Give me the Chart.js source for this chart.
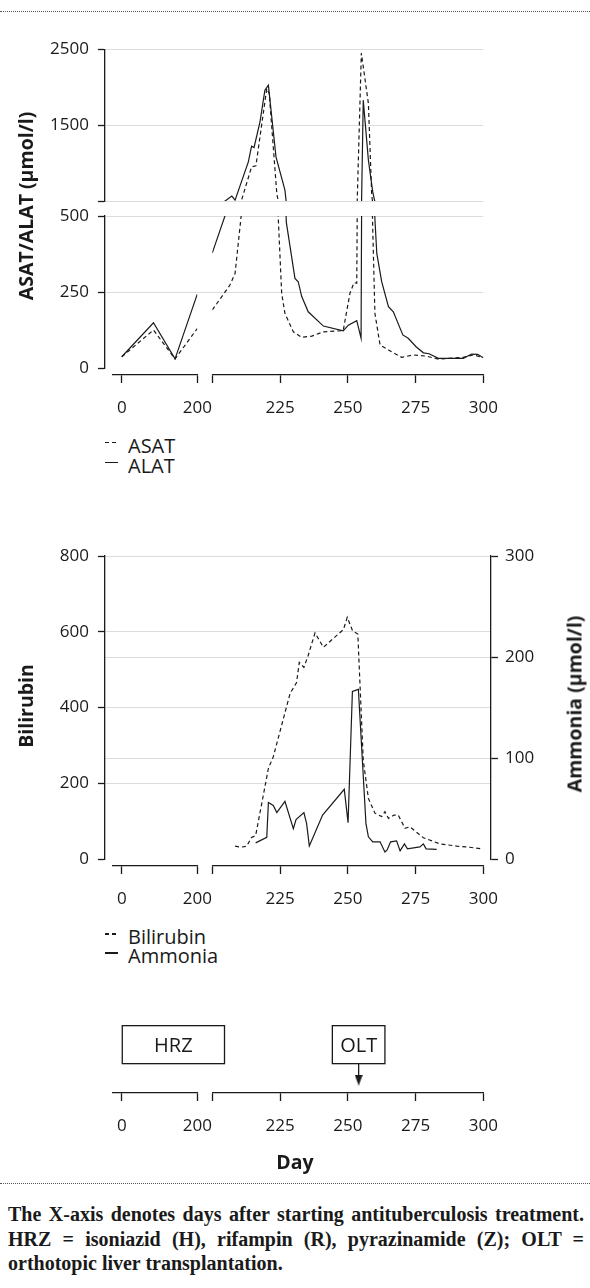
<!DOCTYPE html>
<html lang="en">
<head>
<meta charset="UTF-8">
<title>ASAT/ALAT, bilirubin and ammonia after antituberculosis treatment</title>
<script src="https://cdn.jsdelivr.net/npm/chart.js"></script>
<style>
  body { margin: 0; width: 590px; height: 1288px; background: #fff; position: relative; overflow: hidden;
         font-family: 'Open Sans', sans-serif; color: #1a1a1a; }
  canvas { position: absolute; left: 0; }
  .rule { position: absolute; left: 0; width: 590px; height: 0; border-top: 1px dotted #555; }
  .ytitle { position: absolute; font-weight: 700; font-size: 19.5px; white-space: nowrap;
            transform: translate(-50%, -50%) rotate(-90deg); }
  .leg { position: absolute; left: 105px; font-size: 20px; line-height: 24px; white-space: nowrap; }
  .sym { display: inline-block; height: 1.3px; vertical-align: 9.5px; background: #1a1a1a; width: 13px; margin-right: 10px; }
  .sym.dash { width: 11px; margin-right: 12px;
              background: repeating-linear-gradient(90deg, #1a1a1a 0 4px, transparent 4px 7px); }
  .day { position: absolute; left: 195px; width: 200px; top: 1150.4px; text-align: center;
         font-weight: 700; font-size: 19.5px; line-height: 24px; }
  .cap { position: absolute; left: 8px; width: 576px; top: 1202px; font-family: 'Liberation Serif', serif;
         font-weight: 700; font-size: 20px; line-height: 24.5px; }
  .cap .j { text-align: justify; text-align-last: justify; }
</style>
</head>
<body>

<div class="rule" style="top:11px"></div>

<canvas id="enzymes" width="590" height="400" style="top:30px"></canvas>
<canvas id="bili" width="590" height="400" style="top:520px"></canvas>
<canvas id="timeline" width="590" height="160" style="top:990px"></canvas>

<div class="ytitle" style="left:24.5px; top:206px">ASAT/ALAT (µmol/l)</div>
<div class="leg" style="top:433.5px"><span class="sym dash"></span>ASAT</div>
<div class="leg" style="top:453.5px"><span class="sym"></span>ALAT</div>

<div class="ytitle" style="left:24.5px; top:706px">Bilirubin</div>
<div class="ytitle" style="left:574px; top:704px">Ammonia (µmol/l)</div>
<div class="leg" style="top:925.2px"><span class="sym dash"></span>Bilirubin</div>
<div class="leg" style="top:944.2px"><span class="sym"></span>Ammonia</div>

<div class="day">Day</div>

<div class="rule" style="top:1183px"></div>
<div class="cap">
  <div class="j">The X-axis denotes days after starting antituberculosis treatment.</div>
  <div class="j">HRZ = isoniazid (H), rifampin (R), pyrazinamide (Z); OLT =</div>
  <div>orthotopic liver transplantation.</div>
</div>

<script>
// ---- data (days after start of treatment) ----
const earlyDays = [0, 84, 141, 200];
const earlyAsat = [37, 125, 30, 130];
const earlyAlat = [37, 149, 30, 243];

const asatDays = [200, 206.5, 208.4, 210.8, 214.5, 216.1, 220.1, 221, 223.8, 225.6,
                  226.8, 229.9, 233, 236.7, 241, 248.3, 250.8, 252.3, 253.3, 255,
                  257.6, 258.8, 260, 261.9, 265, 269.9, 274.2, 279.1, 283.4, 292.6, 296.3, 300];
const asatVals = [191, 273, 311, 513, 951, 965, 1983, 1917, 601, 246,
                  180, 119, 101, 105, 119, 123, 246, 281, 279, 2450,
                  1786, 601, 180, 76, 59, 35, 43, 39, 29, 35, 43, 34];

const alatDays = [200, 207.2, 208.4, 213.3, 214.5, 215.4, 217.6, 219.4, 220.7, 223.5,
                  226.8, 227.3, 230.5, 231.7, 233, 235.4, 241, 248.3, 250.2, 253.3,
                  254.9, 255.7, 257.6, 259.2, 260.7, 262.5, 265, 266.8, 270.3, 272.3,
                  275.2, 277.9, 280, 283.4, 292.6, 295.7, 297.9, 300];
const alatVals = [379, 566, 513, 1017, 1224, 1206, 1544, 1961, 2027, 1083,
                  645, 480, 295, 284, 235, 185, 138, 122, 141, 156,
                  98, 1829, 1040, 622, 377, 284, 202, 185, 109, 98,
                  70, 50, 47, 32, 32, 46, 45, 34];

const biliDays = [208.4, 210.5, 212.7, 214.5, 216, 220.7, 222.5, 228.7, 231.1, 232.1,
                  233.8, 235.4, 237.9, 241, 248.4, 249.8, 251.8, 253.7, 255.7, 257.6,
                  260, 262.5, 263.7, 265, 267, 268.6, 271.1, 272.9, 277.9, 284, 290.2, 295, 300];
const biliVals = [34, 31, 34, 57, 62, 239, 270, 437, 466, 519,
                  506, 538, 597, 559, 606, 638, 602, 594, 261, 160,
                  121, 112, 125, 107, 116, 116, 81, 85, 56, 40, 34, 31, 26];

const nh3Days = [216, 220.1, 220.7, 222.5, 223.8, 226.8, 229.9, 230.9, 233.8, 234.8,
                 235.8, 240.7, 248.7, 250.1, 251.7, 253.9, 256.7, 257.6, 259.2, 261.9,
                 263.7, 264.5, 265.8, 268, 269.3, 270.9, 272, 276.6, 277.9, 278.9, 282.8];
const nh3Vals = [16, 21.5, 56, 53, 46, 57, 30, 39, 46, 35,
                 13, 43.5, 69, 36, 166, 168, 35, 22, 17, 17,
                 7, 9, 17, 18, 8, 15, 10, 12, 15, 10, 9.6];

const hrzPeriod = [0, 204.5];
const oltDay = 254;

const leftTicks = [0, 200];
const rightTicks = [200, 225, 250, 275, 300];
const enzLowTicks = [0, 250, 500];
const enzHighTicks = [500, 1500, 2500];
const biliTicks = [0, 200, 400, 600, 800];
const nh3Ticks = [0, 100, 200, 300];

// ---- styling ----
const INK = '#1a1a1a';
const GRID = '#dcdcdc';
const TICK_FONT = {family: "'Open Sans', sans-serif", size: 17};

function fixedTicks(values) {
  return scale => { scale.ticks = values.map(v => ({value: v})); };
}

// empty scale used to leave gaps in a stack of axes
function spacer(position, stack, stackWeight, weight, size) {
  const horizontal = position === 'top' || position === 'bottom';
  return {
    type: 'linear', position, stack, stackWeight, weight, min: 0, max: 1, offset: false,
    afterFit: s => { if (horizontal) s.height = size; else s.width = size; },
    ticks: {display: false}, grid: {display: false, offset: false}, border: {display: false}
  };
}

function dayAxis(min, max, ticks, hidden, stackWeight, weight, height) {
  return {
    type: 'linear', position: 'bottom', stack: 'day', stackWeight, weight, min, max, offset: false,
    afterBuildTicks: fixedTicks(ticks),
    afterFit: s => { s.height = height; },
    grid: {drawOnChartArea: false, offset: false, tickLength: 8, tickWidth: 1.3, tickColor: INK},
    border: {color: INK, width: 1.3},
    ticks: {font: TICK_FONT, color: INK, padding: 15, autoSkip: false, maxRotation: 0,
            callback: v => hidden.includes(v) ? '' : String(v)}
  };
}

function valueAxis(position, stack, min, max, ticks, hidden, stackWeight, weight, width) {
  return {
    type: 'linear', position, stack, stackWeight, weight, min, max, offset: false,
    afterBuildTicks: fixedTicks(ticks),
    afterFit: s => { s.width = width; },
    grid: {color: c => (c.tick && c.tick.value === 0) ? 'rgba(0,0,0,0)' : GRID, offset: false,
           lineWidth: 1, tickLength: 7, tickWidth: 1.3, tickColor: INK},
    border: {color: INK, width: 1.3},
    ticks: {font: TICK_FONT, color: INK, padding: position === 'left' ? 9 : 7,
            callback: v => hidden.includes(v) ? '' : String(v)}
  };
}

function dayScales(height, padRight) {
  const s = {
    xPad: spacer('bottom', 'day', 7.7, 1, height),
    xL: dayAxis(-24, 200, leftTicks, [], 84.6, 2, height),
    xGap: spacer('bottom', 'day', 15, 3, height),
    xR: dayAxis(200, 300, rightTicks, [200], 271, 4, height)
  };
  if (padRight) s.xPadR = spacer('bottom', 'day', 7.7, 5, height);
  return s;
}

function series(days, vals, xAxisID, yAxisID, dashed) {
  return {
    data: days.map((d, i) => ({x: d, y: vals[i]})),
    xAxisID, yAxisID,
    borderColor: INK, borderWidth: 1.2, borderDash: dashed ? [4, 3] : [],
    pointRadius: 0, tension: 0, fill: false, clip: false
  };
}

// clip every dataset to the box of its own x and y scale (broken axes)
const panelClip = {
  id: 'panelClip',
  beforeDatasetDraw(chart, args) {
    const {xScale, yScale} = args.meta;
    const ctx = chart.ctx;
    ctx.save();
    ctx.beginPath();
    ctx.rect(xScale.left, yScale.top, xScale.right - xScale.left, yScale.bottom - yScale.top);
    ctx.clip();
  },
  afterDatasetDraw(chart) {
    chart.ctx.restore();
  }
};

const common = {
  responsive: false, animation: false, events: [],
  plugins: {legend: {display: false}, tooltip: {enabled: false}}
};

// ---- ASAT / ALAT ----
new Chart(document.getElementById('enzymes'), {
  type: 'line',
  data: {datasets: [
    series(earlyDays, earlyAsat, 'xL', 'yLo', true),
    series(earlyDays, earlyAlat, 'xL', 'yLo', false),
    series(asatDays, asatVals, 'xR', 'yLo', true),
    series(asatDays, asatVals, 'xR', 'yHi', true),
    series(alatDays, alatVals, 'xR', 'yLo', false),
    series(alatDays, alatVals, 'xR', 'yHi', false)
  ]},
  options: Object.assign({}, common, {
    layout: {padding: {left: 0, right: 106.7, top: 19, bottom: 0}},
    scales: Object.assign(dayScales(55, false), {
      yHi: valueAxis('left', 'v', 500, 2500, enzHighTicks, [500], 152, 4, 105),
      yGap: spacer('left', 'v', 15, 3, 105),
      yLo: valueAxis('left', 'v', 0, 500, enzLowTicks, [], 152, 2, 105),
      yPad: spacer('left', 'v', 7, 1, 105)
    })
  }),
  plugins: [panelClip]
});

// ---- bilirubin / ammonia ----
new Chart(document.getElementById('bili'), {
  type: 'line',
  data: {datasets: [
    series(biliDays, biliVals, 'xR', 'yB', true),
    series(nh3Days, nh3Vals, 'xR', 'yN', false)
  ]},
  options: Object.assign({}, common, {
    layout: {padding: {left: 0, right: 0, top: 36, bottom: 0}},
    scales: Object.assign(dayScales(54, true), {
      yB: valueAxis('left', 'l', 0, 800, biliTicks, [], 303, 2, 105),
      yBPad: spacer('left', 'l', 7, 1, 105),
      yN: valueAxis('right', 'r', 0, 300, nh3Ticks, [], 303, 1, 99),
      yNPad: spacer('right', 'r', 7, 2, 99)
    })
  }),
  plugins: [panelClip]
});

// ---- treatment timeline ----
const lane = 1;
const oltHalfWidth = 9.7;
const arrowSpan = [0.61, 0.265];

const head = document.createElement('canvas');
head.width = 8; head.height = 11;
const hctx = head.getContext('2d');
hctx.fillStyle = INK;
hctx.beginPath(); hctx.moveTo(0, 0); hctx.lineTo(8, 0); hctx.lineTo(4, 11); hctx.closePath(); hctx.fill();

// white floating bars; a box spanning the broken axis is made of several pieces
function box(x, xAxisID, label) {
  return {
    type: 'bar', indexAxis: 'y', grouped: false, xAxisID, yAxisID: 'y',
    data: [{x, y: lane}], boxLabel: label,
    backgroundColor: '#fff', borderWidth: 0, barThickness: 38, clip: false
  };
}

// outline each labelled group of bars as one box and write its label
const boxText = {
  id: 'boxText',
  afterDatasetsDraw(chart) {
    const spans = {};
    chart.data.datasets.forEach((ds, i) => {
      if (!ds.boxLabel) return;
      chart.getDatasetMeta(i).data.forEach(bar => {
        const p = bar.getProps(['x', 'y', 'base', 'height'], true);
        const s = spans[ds.boxLabel] || (spans[ds.boxLabel] = {l: Infinity, r: -Infinity, y: p.y, h: p.height});
        s.l = Math.min(s.l, p.x, p.base);
        s.r = Math.max(s.r, p.x, p.base);
      });
    });
    const ctx = chart.ctx;
    ctx.save();
    ctx.strokeStyle = INK;
    ctx.lineWidth = 1.3;
    ctx.font = "20px 'Open Sans', sans-serif";
    ctx.fillStyle = INK;
    ctx.textAlign = 'center';
    ctx.textBaseline = 'middle';
    Object.keys(spans).forEach(t => {
      const s = spans[t];
      ctx.strokeRect(s.l, s.y - s.h / 2, s.r - s.l, s.h);
      ctx.fillText(t, (s.l + s.r) / 2, s.y + 1.4);
    });
    ctx.restore();
  }
};

new Chart(document.getElementById('timeline'), {
  type: 'bar',
  data: {datasets: [
    box([hrzPeriod[0], 200], 'xL', 'HRZ'),
    box([0, 1], 'xGap', 'HRZ'),
    box([200, hrzPeriod[1]], 'xR', 'HRZ'),
    box([oltDay - oltHalfWidth, oltDay + oltHalfWidth], 'xR', 'OLT'),
    {
      type: 'line', indexAxis: 'x', xAxisID: 'xR', yAxisID: 'y',
      data: [{x: oltDay, y: arrowSpan[0]}, {x: oltDay, y: arrowSpan[1]}],
      borderColor: INK, borderWidth: 1.3, pointRadius: [0, 5], pointStyle: head, clip: false
    }
  ]},
  options: Object.assign({}, common, {
    indexAxis: 'y',
    layout: {padding: {left: 105, right: 106.7, top: 5, bottom: 0}},
    scales: Object.assign(dayScales(57, false), {
      y: {type: 'linear', position: 'left', display: false, offset: false, grid: {offset: false}, min: 0, max: 2}
    })
  }),
  plugins: [panelClip, boxText]
});
</script>
</body>
</html>
